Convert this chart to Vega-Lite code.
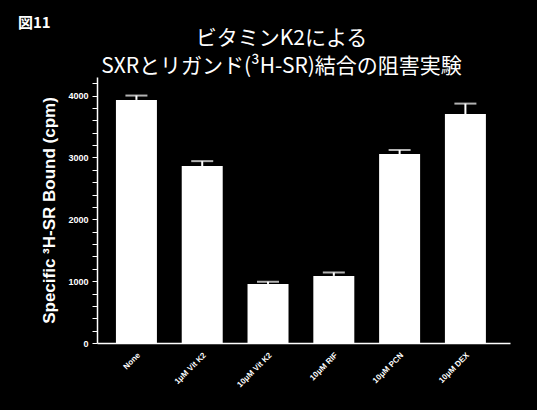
{
  "$schema": "https://vega.github.io/schema/vega-lite/v6.json",
  "width": 413,
  "height": 266,
  "autosize": "none",
  "padding": {"left": 97, "top": 77, "right": 27, "bottom": 67},
  "background": "black",
  "title": {
    "text": "図11", "anchor": "start", "frame": "bounds", "dx": -23, "offset": -4,
    "color": "white", "font": "Noto Sans CJK JP", "fontWeight": "bold", "fontSize": 15
  },
  "config": {
    "view": {"stroke": null},
    "axis": {"grid": false},
    "axisY": {
      "domain": true, "ticks": true, "labels": true,
      "tickCount": 22,
      "labelExpr": "datum.value % 1000 === 0 && datum.value <= 4000 ? format(datum.value, 'd') : ''",
      "labelOverlap": false,
      "tickColor": "white", "tickSize": 5, "tickWidth": 1,
      "domainColor": "white", "domainWidth": 1.5,
      "labelColor": "white", "labelFont": "Liberation Sans", "labelFontWeight": "bold",
      "labelFontSize": 9, "labelPadding": 4,
      "titleColor": "white", "titleFont": "Liberation Sans", "titleFontWeight": "bold",
      "titleFontSize": 17, "titlePadding": 9
    }
  },
  "data": {
    "values": [
      {"label": "None", "value": 3930, "upper": 4000},
      {"label": "1μM Vit K2", "value": 2860, "upper": 2940},
      {"label": "10μM Vit K2", "value": 955, "upper": 990},
      {"label": "10μM RIF", "value": 1085, "upper": 1140},
      {"label": "10μM PCN", "value": 3055, "upper": 3120},
      {"label": "10μM DEX", "value": 3700, "upper": 3870}
    ]
  },
  "layer": [
    {
      "mark": {"type": "bar", "color": "white"},
      "encoding": {
        "x": {
          "field": "label", "type": "nominal", "sort": null,
          "scale": {"paddingInner": 0.377, "paddingOuter": 0.327, "align": 0.44},
          "axis": {
            "orient": "bottom", "title": null, "labelAngle": -45, "ticks": false, "domain": true,
            "domainColor": "white", "domainWidth": 1.5,
            "labelColor": "white", "labelFont": "Liberation Sans", "labelFontWeight": "bold",
            "labelFontSize": 8, "labelPadding": 8
          }
        },
        "y": {
          "field": "value", "type": "quantitative",
          "scale": {"domain": [0, 4300], "nice": false},
          "axis": {"orient": "left", "title": "Specific ³H-SR Bound (cpm)"}
        }
      }
    },
    {
      "mark": {"type": "rule", "color": "white", "strokeWidth": 2},
      "encoding": {
        "x": {
          "field": "label", "type": "nominal", "sort": null,
          "axis": {
            "orient": "top", "labels": false, "ticks": false, "domain": false,
            "title": ["ビタミンK2による", "SXRとリガンド(³H-SR)結合の阻害実験"],
            "titleColor": "white", "titleFont": "Noto Sans CJK JP", "titleFontWeight": "normal",
            "titleFontSize": 21, "titleLineHeight": 28,
            "titleX": 184, "titleY": -50, "titleAlign": "center", "titleBaseline": "top", "titleAngle": 0
          }
        },
        "y": {
          "field": "value", "type": "quantitative",
          "axis": {"orient": "left", "title": "Specific ³H-SR Bound (cpm)"}
        },
        "y2": {"field": "upper"}
      }
    },
    {
      "mark": {"type": "tick", "color": "white", "thickness": 2, "size": 22},
      "encoding": {
        "x": {"field": "label", "type": "nominal", "sort": null, "axis": null},
        "y": {
          "field": "upper", "type": "quantitative",
          "axis": {"orient": "left", "title": "Specific ³H-SR Bound (cpm)"}
        }
      }
    }
  ],
  "resolve": {"axis": {"x": "independent"}}
}
